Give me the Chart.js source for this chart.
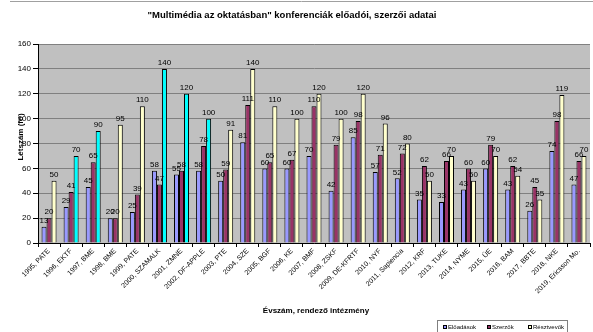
<!DOCTYPE html>
<html>
<head>
<meta charset="utf-8">
<title>Multimédia az oktatásban</title>
<script src="https://cdn.jsdelivr.net/npm/chart.js@4/dist/chart.umd.min.js"></script>
<style>
	html, body { margin: 0; padding: 0; background: #fff; }
	#wrap { position: relative; width: 593px; height: 332px; }
</style>
</head>
<body>
<div id="wrap"><canvas id="chart" width="593" height="332"></canvas></div>
<script>
// conference sites by year
var categories = [
	'1995, PATE', '1996, EKTF', '1997, BME', '1998, BME', '1999, PATE',
	'2000, SZAMALK', '2001, ZMNE', '2002, DF-APPLE', '2003, PTE', '2004, SZE',
	'2005, BGF', '2006, KE', '2007, BMF', '2008, ZSKF', '2009, DE-KFRTF',
	'2010, NYF', '2011, Sapiencia', '2012, KRF', '2013, TUKE', '2014, NYME',
	'2015, ÜE', '2016, BAM', '2017, BBTE', '2018, NKE', '2019, Ericsson Mo.'
];
var eloadasok = [13, 29, 45, 20, 25, 58, 55, 58, 50, 81, 60, 60, 70, 42, 85, 57, 52, 35, 33, 43, 60, 43, 26, 74, 47];
var szerzok = [20, 41, 65, 20, 39, 47, 58, 78, 59, 111, 65, 67, 110, 79, 98, 71, 72, 62, 66, 60, 79, 62, 45, 98, 66];
var resztvevok = [50, 70, 90, 95, 110, 140, 120, 100, 91, 140, 110, 100, 120, 100, 120, 96, 80, 50, 70, 50, 70, 54, 35, 119, 70];
// years whose attendance bar is drawn in cyan
var cyanYears = ['1996', '1997', '2000', '2001', '2002'];
var yTicks = [0, 20, 40, 60, 80, 100, 120, 140, 160];

var APP = APP || {};
(function () {
	'use strict';

	var FONT = 'Arial, "Liberation Sans", sans-serif';

	APP.chart = {
		init: function () {
			var ctx = document.getElementById('chart');
			var thirdColors = categories.map(function (c) {
				return cyanYears.indexOf(c.slice(0, 4)) > -1 ? '#00ffff' : '#ffffcc';
			});

			new Chart(ctx, {
				type: 'bar',
				data: {
					labels: categories,
					datasets: [
						{ label: 'Előadások', data: eloadasok, backgroundColor: '#9999ff' },
						{ label: 'Szerzők', data: szerzok, backgroundColor: '#993366' },
						{ label: 'Résztvevők', data: resztvevok, backgroundColor: thirdColors, legendColor: '#ffffcc' }
					].map(function (ds) {
						ds.borderColor = '#000';
						ds.borderWidth = 1;
						ds.borderSkipped = 'bottom';
						ds.categoryPercentage = 0.68;
						ds.barPercentage = 1;
						return ds;
					})
				},
				options: {
					responsive: false,
					animation: false,
					layout: { padding: { top: 44, right: 3, left: 0, bottom: 0 } },
					plugins: {
						legend: { display: false },
						title: { display: false },
						tooltip: { enabled: false }
					},
					scales: {
						x: {
							offset: true,
							grid: { display: true, drawOnChartArea: false, offset: true, color: '#000', tickLength: 4 },
							border: { color: '#000' },
							ticks: {
								autoSkip: false,
								maxRotation: 45,
								minRotation: 45,
								color: '#000',
								padding: 0,
								font: { family: FONT, size: 7 }
							},
							afterFit: function (scale) { scale.height = 89; }
						},
						y: {
							min: 0,
							max: 160,
							afterBuildTicks: function (scale) {
								scale.ticks = yTicks.map(function (v) { return { value: v }; });
							},
							grid: { color: '#808080', tickLength: 5, tickColor: '#000' },
							border: { color: '#000' },
							ticks: {
								color: '#000',
								padding: 2,
								font: { family: FONT, size: 8 }
							},
							afterFit: function (scale) { scale.width = 38; }
						}
					}
				},
				plugins: [this.decor]
			});
		},

		decor: {
			id: 'decor',
			beforeDraw: function (chart) {
				var c = chart.ctx, a = chart.chartArea;
				c.save();
				c.fillStyle = '#c0c0c0';
				c.fillRect(a.left, a.top, a.right - a.left, a.bottom - a.top);
				c.strokeStyle = '#a0a0a0';
				c.lineWidth = 1;
				c.beginPath();
				c.moveTo(10, 1.5);
				c.lineTo(chart.width, 1.5);
				c.stroke();
				c.restore();
			},
			afterDatasetsDraw: function (chart) {
				var c = chart.ctx;
				c.save();
				c.font = '8px ' + FONT;
				c.fillStyle = '#000';
				c.textAlign = 'center';
				c.textBaseline = 'bottom';
				chart.data.datasets.forEach(function (ds, i) {
					chart.getDatasetMeta(i).data.forEach(function (bar, j) {
						c.fillText(String(ds.data[j]), bar.x, bar.y - 2);
					});
				});
				c.restore();
			},
			afterDraw: function (chart) {
				var c = chart.ctx;
				c.save();
				c.fillStyle = '#000';

				// title
				c.font = 'bold 9.5px ' + FONT;
				c.textAlign = 'center';
				c.textBaseline = 'middle';
				c.fillText('"Multimédia az oktatásban" konferenciák előadói, szerzői adatai', 292, 15);

				// axis titles
				c.font = 'bold 8px ' + FONT;
				c.fillText('Évszám, rendező intézmény', 316, 311);
				c.save();
				c.translate(21, 137);
				c.rotate(-Math.PI / 2);
				c.fillText('Létszám (fő)', 0, 0);
				c.restore();

				// legend box
				var x = 437, y = 320, w = 131, h = 13;
				c.fillStyle = '#fff';
				c.fillRect(x, y, w, h);
				c.strokeStyle = '#808080';
				c.lineWidth = 1;
				c.strokeRect(x + 0.5, y + 0.5, w - 1, h - 1);
				c.font = '6px ' + FONT;
				c.textAlign = 'left';
				var offsets = [6, 50, 91];
				chart.data.datasets.forEach(function (ds, i) {
					var lx = x + offsets[i];
					c.fillStyle = ds.legendColor || ds.backgroundColor;
					c.fillRect(lx, y + 5, 4, 4);
					c.strokeStyle = '#000';
					c.strokeRect(lx + 0.5, y + 5.5, 3, 3);
					c.fillStyle = '#000';
					c.fillText(ds.label, lx + 5, y + 7);
				});
				c.restore();
			}
		}
	};

	APP.chart.init();
})();
</script>
</body>
</html>
